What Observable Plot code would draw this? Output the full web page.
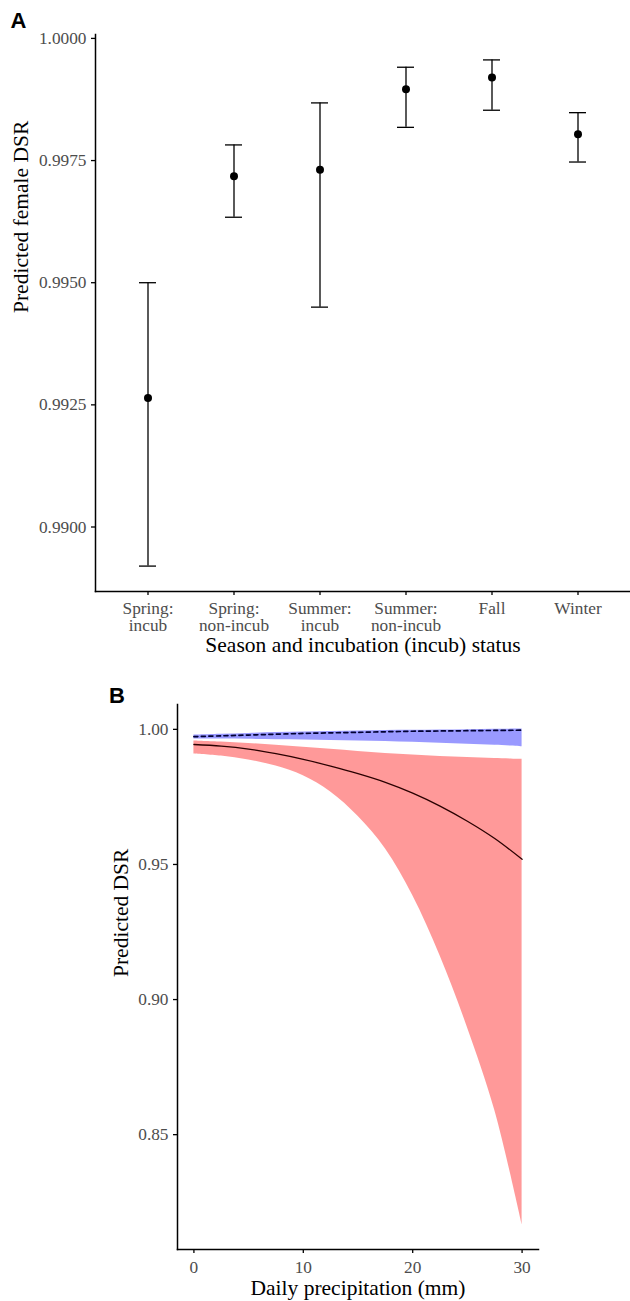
<!DOCTYPE html>
<html><head><meta charset="utf-8">
<script src="https://cdn.jsdelivr.net/npm/d3@7"></script>
<script src="https://cdn.jsdelivr.net/npm/@observablehq/plot@0.6"></script>
<style>
html,body{margin:0;padding:0;background:#fff;}
#chart{position:relative;width:630px;height:1301px;overflow:hidden;}
#chart svg{display:block;}
</style></head><body><div id="chart"></div>
<script>
// ---------- Panel A data ----------
const seasons = ["Spring:\nincub", "Spring:\nnon-incub", "Summer:\nincub", "Summer:\nnon-incub", "Fall", "Winter"];
const femaleDSR   = [0.99264, 0.99718, 0.99731, 0.99896, 0.99920, 0.99804];
const femaleLower = [0.98920, 0.99634, 0.99450, 0.99818, 0.99853, 0.99747];
const femaleUpper = [0.99500, 0.99782, 0.99868, 0.99941, 0.99956, 0.99848];
const yTicksA = [0.9900, 0.9925, 0.9950, 0.9975, 1.0000];

// ---------- Panel B data ----------
const precip    = [0, 2.5, 5, 7.5, 10, 12.5, 15, 17.5, 20, 22.5, 25, 27.5, 30];
const redMean   = [0.9944, 0.9938, 0.9927, 0.9910, 0.9889, 0.9864, 0.9836, 0.9804, 0.9764, 0.9716, 0.9660, 0.9596, 0.9519];
const redUpper  = [0.9957, 0.9953, 0.9948, 0.9941, 0.9934, 0.9926, 0.9918, 0.9911, 0.9905, 0.9900, 0.9896, 0.9892, 0.9889];
const redLower  = [0.9909, 0.9901, 0.9887, 0.9864, 0.9828, 0.9768, 0.9678, 0.9558, 0.9385, 0.9162, 0.8897, 0.8590, 0.8167];
const blueMean  = [0.9973, 0.9976, 0.9979, 0.9982, 0.9985, 0.9987, 0.9989, 0.9991, 0.9993, 0.9994, 0.9995, 0.9996, 0.9997];
const blueUpper = [0.9979, 0.9982, 0.9985, 0.9988, 0.9990, 0.9992, 0.9994, 0.9996, 0.9997, 0.9998, 0.9999, 1.0000, 1.0001];
const blueLower = [0.9964, 0.9964, 0.9963, 0.9962, 0.9961, 0.9959, 0.9957, 0.9955, 0.9952, 0.9949, 0.9945, 0.9941, 0.9936];
const yTicksB = [0.85, 0.90, 0.95, 1.00];
const xTicksB = [0, 10, 20, 30];

const serif = "'Liberation Serif', 'Times New Roman', serif";
const sans = "'Liberation Sans', Arial, sans-serif";
const tickGrey = "#4d4d4d";

const rowsA = seasons.map((s, i) => ({s, m: femaleDSR[i], lo: femaleLower[i], hi: femaleUpper[i]}));

const plotA = Plot.plot({
  width: 630, height: 680,
  marginLeft: 95, marginRight: 0, marginTop: 34, marginBottom: 89,
  style: {fontFamily: serif, background: "white", overflow: "visible"},
  x: {type: "band", domain: seasons, paddingInner: 0.803, paddingOuter: 0.5015},
  y: {domain: [0.98868, 1.00008]},
  marks: [
    Plot.frame({anchor: "left", stroke: "black", strokeWidth: 1.5}),
    Plot.frame({anchor: "bottom", stroke: "black", strokeWidth: 1.5}),
    Plot.ruleX(rowsA, {x: "s", y1: "lo", y2: "hi", stroke: "black", strokeWidth: 1.3}),
    Plot.tickY(rowsA, {x: "s", y: "lo", stroke: "black", strokeWidth: 1.3}),
    Plot.tickY(rowsA, {x: "s", y: "hi", stroke: "black", strokeWidth: 1.3}),
    Plot.dot(rowsA, {x: "s", y: "m", r: 4, fill: "black", stroke: "none"}),
    Plot.axisY({ticks: yTicksA, tickFormat: d3.format(".4f"), tickSize: 4, tickPadding: 5,
      fontSize: 17.3, stroke: "black", fill: tickGrey, strokeWidth: 1.3, label: null}),
    Plot.axisX({tickSize: 4, tickPadding: 6, fontSize: 17.3, lineHeight: 1.0,
      stroke: "black", fill: tickGrey, strokeWidth: 1.3, label: null}),
    Plot.text(["Season and incubation (incub) status"], {text: d => d, frameAnchor: "bottom", dy: 60, fontSize: 21.5, fill: "black"}),
    Plot.text(["Predicted female DSR"], {text: d => d, frameAnchor: "left", dx: -74, rotate: -90, fontSize: 21.5, fill: "black"}),
    Plot.text(["A"], {text: d => d, frameAnchor: "top-left", dx: -85, dy: -22, textAnchor: "start",
      fontFamily: sans, fontWeight: "bold", fontSize: 22, fill: "black"})
  ]
});

const rowsB = precip.map((x, i) => ({
  x, rm: redMean[i], ru: redUpper[i], rl: redLower[i],
  bm: blueMean[i], bu: blueUpper[i], bl: blueLower[i]
}));

const plotB = Plot.plot({
  width: 630, height: 621,
  marginLeft: 177, marginRight: 92, marginTop: 24, marginBottom: 52,
  style: {fontFamily: serif, background: "white", overflow: "visible"},
  x: {domain: [-1.5, 31.5]},
  y: {domain: [0.8075, 1.0092]},
  marks: [
    Plot.areaY(rowsB, {x: "x", y1: "rl", y2: "ru", fill: "#ff0000", fillOpacity: 0.4, curve: "catmull-rom"}),
    Plot.areaY(rowsB, {x: "x", y1: "bl", y2: "bu", fill: "#0000ff", fillOpacity: 0.4, curve: "catmull-rom"}),
    Plot.lineY(rowsB, {x: "x", y: "rm", stroke: "#2a0000", strokeWidth: 1.3, curve: "catmull-rom"}),
    Plot.lineY(rowsB, {x: "x", y: "bm", stroke: "#000033", strokeWidth: 1.7, strokeDasharray: "4,3.5", curve: "catmull-rom"}),
    Plot.frame({anchor: "left", stroke: "black", strokeWidth: 1.5}),
    Plot.frame({anchor: "bottom", stroke: "black", strokeWidth: 1.5}),
    Plot.axisY({ticks: yTicksB, tickFormat: d3.format(".2f"), tickSize: 4, tickPadding: 5,
      fontSize: 17.3, stroke: "black", fill: tickGrey, strokeWidth: 1.3, label: null}),
    Plot.axisX({ticks: xTicksB, tickFormat: d3.format("d"), tickSize: 4, tickPadding: 7,
      fontSize: 17.3, stroke: "black", fill: tickGrey, strokeWidth: 1.3, label: null}),
    Plot.text(["Daily precipitation (mm)"], {text: d => d, frameAnchor: "bottom", dy: 45, fontSize: 21.5, fill: "black"}),
    Plot.text(["Predicted DSR"], {text: d => d, frameAnchor: "left", dx: -56, rotate: -90, fontSize: 21.5, fill: "black"}),
    Plot.text(["B"], {text: d => d, frameAnchor: "top-left", dx: -68.5, dy: -17, textAnchor: "start",
      fontFamily: sans, fontWeight: "bold", fontSize: 22, fill: "black"})
  ]
});

const chart = document.getElementById("chart");
chart.appendChild(plotA);
chart.appendChild(plotB);
</script>
</body></html>
